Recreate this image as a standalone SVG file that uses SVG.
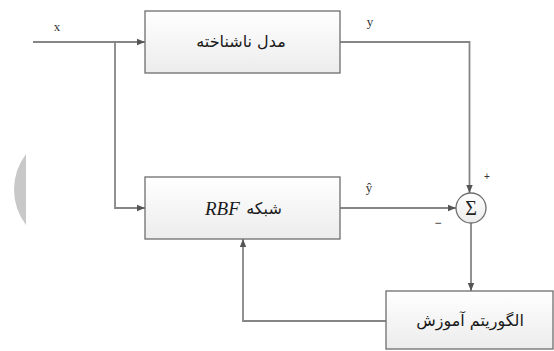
<svg xmlns="http://www.w3.org/2000/svg" width="554" height="351" viewBox="0 0 554 351">
<style>
.box{fill:url(#g);stroke:#6e6e6e;stroke-width:1.3}
.ln{fill:none;stroke:#868686;stroke-width:1.8}
.fa{font-family:"DejaVu Sans",sans-serif;font-size:16px;fill:#1a1a1a}
.lb{font-family:"Liberation Serif",serif;font-size:13px;fill:#333}
</style>
<defs>
<linearGradient id="g" x1="0" y1="0" x2="0" y2="1">
<stop offset="0" stop-color="#ffffff"/>
<stop offset="1" stop-color="#ececec"/>
</linearGradient>
<marker id="ar" viewBox="0 0 8 8" refX="8" refY="4" markerWidth="8" markerHeight="8" markerUnits="userSpaceOnUse" orient="auto">
<path d="M0,0.8 L8,4 L0,7.2 Z" fill="#555"/>
</marker>
</defs>
<path d="M26,154 A58.5,58.5 0 0 0 26,225 Z" fill="#c8c8c8"/>
<g id="connectors">
<path class="ln" d="M33,42 H145" marker-end="url(#ar)"/>
<path class="ln" d="M93,42 H115" stroke="#6a6a6a"/>
<path class="ln" d="M115,42 V208 H145" marker-end="url(#ar)"/>
<path class="ln" d="M340,42 H469.5 V193" marker-end="url(#ar)"/>
<path class="ln" d="M340,208 H456" marker-end="url(#ar)"/>
<path class="ln" d="M471,223 V291" marker-end="url(#ar)"/>
<path class="ln" d="M386,321 H243 V239" marker-end="url(#ar)"/>
</g>
<g id="model">
<rect class="box" x="145" y="11" width="195" height="62"/>
<text class="fa" x="241" y="47" text-anchor="middle">مدل ناشناخته</text>
</g>
<g id="rbf">
<rect class="box" x="145" y="177" width="195" height="62"/>
<text x="205" y="214.5" font-family="Liberation Serif,serif" font-style="italic" font-size="19" fill="#1a1a1a">RBF</text>
<text class="fa" x="264" y="214" text-anchor="middle">شبکه</text>
</g>
<g id="sum">
<circle cx="471" cy="208" r="15" fill="url(#g)" stroke="#6e6e6e" stroke-width="1.3"/>
<text x="471" y="215" text-anchor="middle" font-family="Liberation Serif,serif" font-size="20" fill="#222">Σ</text>
</g>
<g id="train">
<rect class="box" x="386" y="291" width="167" height="58"/>
<text class="fa" x="470" y="326" text-anchor="middle">الگوریتم آموزش</text>
</g>
<g id="labels">
<text class="lb" x="57" y="31" text-anchor="middle">x</text>
<text class="lb" x="370" y="26" text-anchor="middle">y</text>
<text class="lb" x="369" y="192" text-anchor="middle">ŷ</text>
<text x="487" y="180" text-anchor="middle" font-family="Liberation Sans,sans-serif" font-size="10" fill="#333">+</text>
<text x="438" y="227" text-anchor="middle" font-family="Liberation Sans,sans-serif" font-size="12" fill="#333">−</text>
</g>
</svg>
